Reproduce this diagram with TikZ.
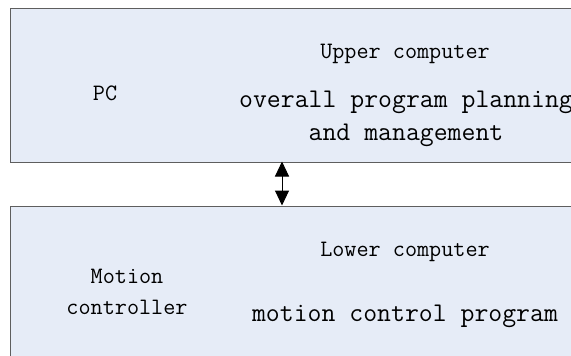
\documentclass[tikz,border=0pt]{standalone}
\usetikzlibrary{arrows.meta}
\definecolor{boxfill}{HTML}{E6ECF7}
\definecolor{boxline}{HTML}{5E5E5E}
\tikzset{
  layer/.style={draw=boxline, line width=1.5pt, fill=boxfill, rectangle,
    anchor=north west, inner sep=0pt},
  small/.style={font=\ttfamily\fontsize{23.5}{27}\selectfont, inner sep=0pt, anchor=base},
  large/.style={font=\ttfamily\fontsize{27}{30}\selectfont, inner sep=0pt, anchor=base},
  link/.style={line width=1pt, {Triangle[width=14pt,length=15pt]}-{Triangle[width=14pt,length=15pt]}}
}
\begin{document}
\begin{tikzpicture}[x=1pt,y=-1pt]
  \useasboundingbox (0,0) rectangle (571,356);
  \clip (0,0) rectangle (571,356);
  % upper layer: PC
  \node[layer, minimum width=600pt, minimum height=154pt] (pcbox) at (9.5,7.5) {};
  % lower layer: motion controller
  \node[layer, minimum width=600pt, minimum height=170pt] (mcbox) at (9.5,205.5) {};

  \node[small] (pc) at (105,100) {PC};
  \node[small] (upper) at (405,58) {Upper computer};
  \node[large] (plan1) at (406,107) {overall program planning};
  \node[large] (plan2) at (406,140) {and management};

  \node[small] (motion1) at (127,283) {Motion};
  \node[small] (motion2) at (127,314) {controller};
  \node[small] (lower) at (405,256) {Lower computer};
  \node[large] (prog) at (405,321) {motion control program};

  % communication link between the two layers
  \coordinate (linktop) at (282,161.5);
  \coordinate (linkbot) at (282,205.5);
  \draw[link] (linktop) -- (linkbot);
\end{tikzpicture}
\end{document}
